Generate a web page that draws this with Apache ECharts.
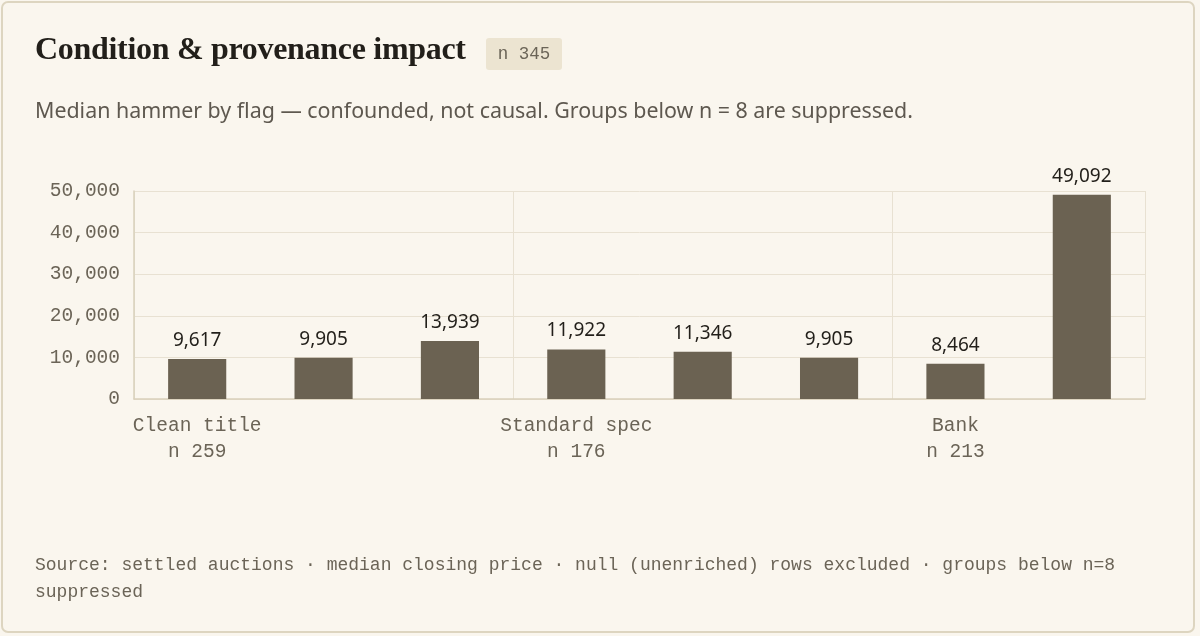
<!DOCTYPE html>
<html>
<head>
<meta charset="utf-8">
<script src="https://cdn.jsdelivr.net/npm/echarts@6/dist/echarts.min.js"></script>
<style>
  html, body { margin: 0; padding: 0; background: #f3eee2; }
  .card {
    position: absolute; left: 1px; top: 1px; width: 1194px; height: 632px;
    background: transparent; border: 2px solid #ddd5c0; border-radius: 7px;
    box-sizing: border-box; pointer-events: none;
  }
  .title {
    position: absolute; left: 35px; top: 30px; line-height: 36px;
    font-family: "Liberation Serif", "DejaVu Serif", serif; font-weight: bold;
    font-size: 32px; color: #221f1a; letter-spacing: -0.3px; white-space: nowrap;
  }
  .badge {
    position: absolute; left: 486px; top: 38px; height: 32px; width: 76px;
    text-align: center; line-height: 32px; background: #ece4d1; border-radius: 3px;
    font-family: "Liberation Mono", monospace; font-size: 17.5px; color: #6b6457;
  }
  .sub {
    position: absolute; left: 35px; top: 95px; line-height: 30px; white-space: nowrap;
    font-family: "Noto Sans", sans-serif; font-size: 21.4px; color: #5e584f;
  }
  .foot {
    position: absolute; left: 35px; top: 552px; width: 1110px;
    font-family: "Liberation Mono", monospace; font-size: 18px; line-height: 27px; color: #6b6457;
  }
  #chart { position: absolute; left: 0; top: 0; width: 1200px; height: 636px; }
</style>
</head>
<body>
<div id="chart"></div>
<div class="card"></div>
<div class="title">Condition &amp; provenance impact</div>
<div class="badge">n 345</div>
<div class="sub">Median hammer by flag — confounded, not causal. Groups below n = 8 are suppressed.</div>
<div class="foot">Source: settled auctions · median closing price · null (unenriched) rows excluded · groups below n=8 suppressed</div>
<script>
// Categories (only every third label is shown in the reference; others are hidden by label thinning)
const categories = [
  "Clean title\nn 259", "Salvage title\nn 31", "Rebuilt title\nn 55",
  "Standard spec\nn 176", "Modified\nn 98", "Restored\nn 71",
  "Bank\nn 213", "Collector\nn 12"
];
const medianHammer = [9617, 9905, 13939, 11922, 11346, 9905, 8464, 49092];
const yTicks = { min: 0, max: 50000, interval: 10000 };

const chart = echarts.init(document.getElementById('chart'));
chart.setOption({
  backgroundColor: '#faf6ee',
  animation: false,
  grid: { left: 134, right: 55, top: 191, bottom: 237, containLabel: false },
  xAxis: {
    type: 'category',
    data: categories,
    axisLine: { show: true, lineStyle: { color: '#d9d0bb', width: 1.5 } },
    axisTick: { show: false },
    axisLabel: {
      interval: 2,
      margin: 14,
      fontFamily: 'Liberation Mono, monospace',
      fontSize: 19.5,
      lineHeight: 26,
      color: '#6b6457'
    },
    splitLine: { show: true, interval: 2, lineStyle: { color: '#e8e1d2', width: 1 } }
  },
  yAxis: {
    type: 'value',
    min: yTicks.min, max: yTicks.max, interval: yTicks.interval,
    axisLine: { show: true, lineStyle: { color: '#d9d0bb', width: 1.5 } },
    axisTick: { show: false },
    axisLabel: {
      margin: 14,
      fontFamily: 'Liberation Mono, monospace',
      fontSize: 19.5,
      color: '#6b6457',
      formatter: v => v.toLocaleString('en-US')
    },
    splitLine: { show: true, lineStyle: { color: '#e8e1d2', width: 1 } }
  },
  series: [{
    type: 'bar',
    data: medianHammer,
    barWidth: '46%',
    itemStyle: { color: '#6b6252' },
    label: {
      show: true,
      position: 'top',
      distance: 9,
      fontFamily: 'Noto Sans, sans-serif',
      fontSize: 19,
      color: '#221f1a',
      formatter: p => p.value.toLocaleString('en-US')
    }
  }]
});
</script>
</body>
</html>
